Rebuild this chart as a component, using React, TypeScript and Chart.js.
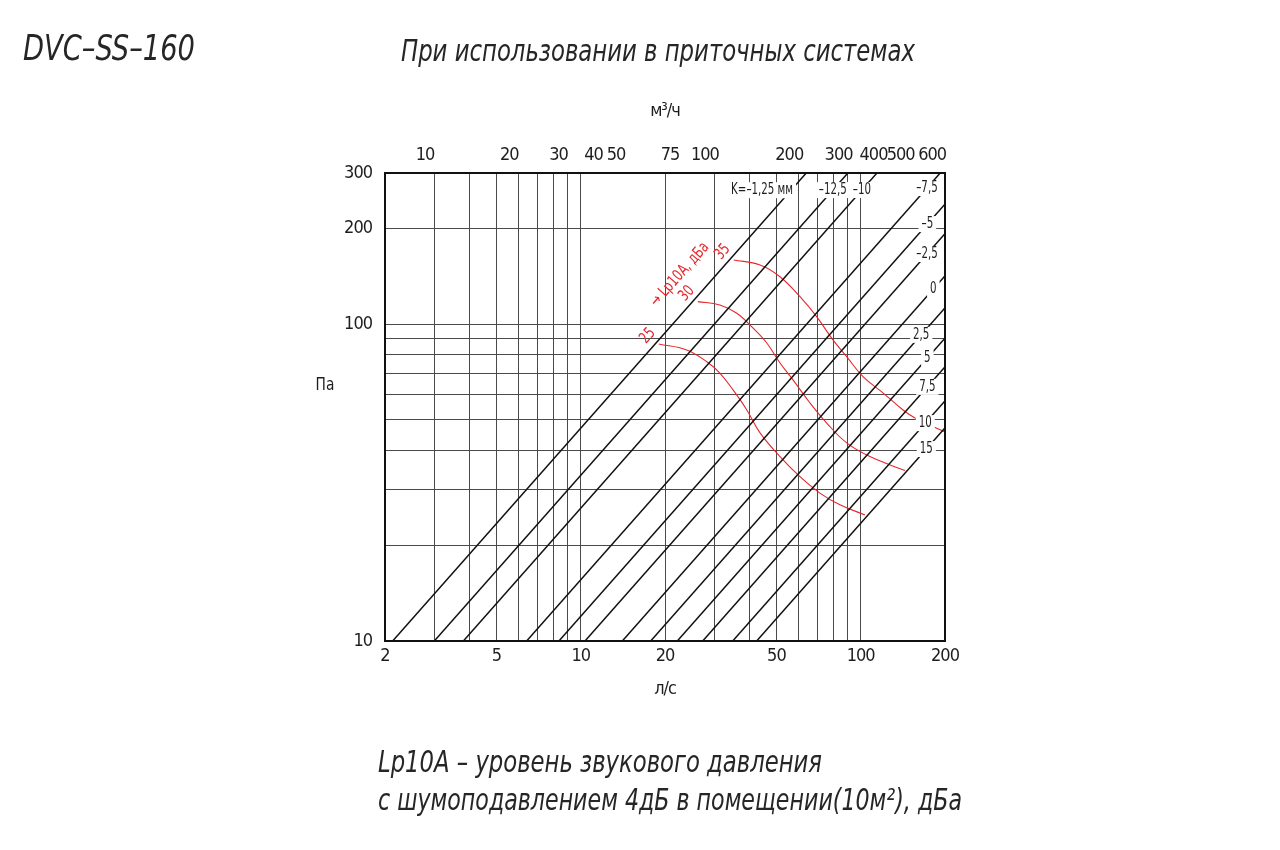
import React, { useEffect, useLayoutEffect, useRef } from "react";
import { Chart, registerables } from "chart.js";

Chart.register(...registerables);

const FONT = "'DejaVu Sans Condensed', 'DejaVu Sans', sans-serif";
const RED = "#e8262b";
const INK = "#1e1e1e";

// ---- axes: flow in l/s (bottom), m³/h (top), pressure in Pa (left)
const flowMin = 2;
const flowMax = 200;
const pressureMin = 10;
const pressureMax = 300;
const LS_TO_M3H = 3.6;
const flowTickLabels = [2, 5, 10, 20, 50, 100, 200];
const flowGridLines = [3, 4, 5, 6, 7, 8, 9, 10, 20, 30, 40, 50, 60, 70, 80, 90, 100];
const airflowM3hTicks = [10, 20, 30, 40, 50, 75, 100, 200, 300, 400, 500, 600];
const pressureTickLabels = [10, 100, 200, 300];
const pressureGridLines = [20, 30, 40, 50, 60, 70, 80, 90, 100, 200];

// ---- damper settings K: flow (l/s) where each line is at 10 Pa (pressure ∝ flow)
const kSettings = ["K=–1,25 мм", "–12,5", "–10", "–7,5", "–5", "–2,5", "0", "2,5", "5", "7,5", "10", "15"];
const kFlowAt10Pa = [2.13, 3.0, 3.81, 6.41, 8.36, 10.36, 14.08, 17.78, 22.13, 27.27, 34.9, 42.5];
const kLabelFlow = [56.4, 79.5, 101, 172.4, 173, 172.5, 181.7, 164.5, 173, 172.9, 170, 171.5];

// ---- noise curves Lp10A, dBA
const noiseLevels = ["35", "30", "25"];
const noise35Flow = [35.2, 43.7, 51.5, 60.7, 69.6, 79.6, 89.1, 101.9, 120.1, 141.6, 156.3, 200];
const noise35Pa = [159.5, 153.8, 141.2, 122.1, 105.6, 89.2, 79.0, 68.3, 60.7, 53.6, 50.6, 45.7];
const noise30Flow = [26.2, 31.4, 36.1, 41.2, 46.2, 51.5, 57.3, 65.9, 75.6, 89.1, 107.9, 143.9];
const noise30Pa = [117.8, 115, 108.2, 97.3, 87.2, 75.4, 66.7, 56.4, 48.75, 42.2, 38.2, 34.5];
const noise25Flow = [19.0, 23.9, 28.2, 31.4, 35.0, 39.2, 43.7, 51.5, 60.7, 71.5, 84.3, 103.6];
const noise25Pa = [86.6, 82.9, 76.1, 70.1, 62.0, 53.6, 45.4, 38.2, 33.0, 29.3, 26.9, 25.0];
const noiseAxisNote = "→ Lp10A, дБа";

const titleModel = "DVC–SS–160";
const titleUse = "При использовании в приточных системах";
const footnote1 = "Lp10A – уровень звукового давления";
const footnote2 = "с шумоподавлением 4дБ в помещении(10м²), дБа";

const FIG = "\u2007";

function FitText(props: { text: string; left: number; cy: number; width: number; size: number }) {
  const ref = useRef<HTMLSpanElement>(null);
  useLayoutEffect(() => {
    const el = ref.current;
    if (!el) return;
    el.style.transform = "translateY(-50%)";
    const w = el.getBoundingClientRect().width;
    el.style.transform = `translateY(-50%) scaleX(${props.width / w})`;
  }, [props.text, props.width, props.size]);
  return (
    <span
      ref={ref}
      style={{
        position: "absolute",
        left: props.left,
        top: props.cy,
        fontSize: props.size,
        lineHeight: 1,
        fontStyle: "italic",
        fontFamily: FONT,
        whiteSpace: "nowrap",
        transformOrigin: "0 50%",
        color: "#262626",
      }}
    >
      {props.text}
    </span>
  );
}

function drawNarrow(ctx: any, text: string, x: number, y: number, sx: number, angle = 0) {
  ctx.save();
  ctx.translate(x, y);
  if (angle) ctx.rotate(angle);
  ctx.scale(sx, 1);
  ctx.fillText(text, 0, 0);
  ctx.restore();
}

export default function App() {
  const canvasRef = useRef<HTMLCanvasElement>(null);

  useEffect(() => {
    const canvas = canvasRef.current;
    if (!canvas) return;

    const lineDatasets = kFlowAt10Pa.map((q, i) => ({
      label: kSettings[i],
      data: [
        { x: q, y: pressureMin },
        { x: (q * pressureMax) / pressureMin, y: pressureMax },
      ],
      borderColor: "#111",
      borderWidth: 1.5,
      pointRadius: 0,
      tension: 0,
      xAxisID: "x",
      yAxisID: "y",
    }));

    const curves: [number[], number[]][] = [
      [noise35Flow, noise35Pa],
      [noise30Flow, noise30Pa],
      [noise25Flow, noise25Pa],
    ];
    const noiseDatasets = curves.map(([f, p], i) => ({
      label: "Lp10A " + noiseLevels[i],
      data: f.map((x, j) => ({ x, y: p[j] })),
      borderColor: RED,
      borderWidth: 1.1,
      pointRadius: 0,
      tension: 0.4,
      xAxisID: "x",
      yAxisID: "y",
    }));

    const allFlowTicks = Array.from(new Set([...flowTickLabels, ...flowGridLines])).sort((a, b) => a - b);
    const allPressureTicks = Array.from(new Set([...pressureTickLabels, ...pressureGridLines])).sort((a, b) => a - b);

    const annotate = {
      id: "annotate",
      beforeDraw(chart: any) {
        chart.ctx.letterSpacing = "-1px";
      },
      afterDatasetsDraw(chart: any) {
        const { ctx, scales } = chart;
        const x = scales.x;
        const y = scales.y;
        ctx.save();
        ctx.letterSpacing = "0px";
        // K labels on the damper lines, white background
        const sxK = 0.76;
        ctx.font = `15px ${FONT}`;
        ctx.textBaseline = "middle";
        ctx.textAlign = "center";
        kSettings.forEach((t, i) => {
          const q = kLabelFlow[i];
          const px = x.getPixelForValue(q);
          const py = y.getPixelForValue((q * pressureMin) / kFlowAt10Pa[i]);
          const w = ctx.measureText(t).width * sxK;
          const cx = i === 0 ? px - w / 2 + 2 : px;
          ctx.fillStyle = "#fff";
          ctx.fillRect(cx - w / 2 - 3, py - 8, w + 6, 16);
          ctx.fillStyle = INK;
          drawNarrow(ctx, t, cx, py, sxK);
        });
        // noise labels, rotated along the diagonals
        const ang = Math.atan2(
          y.getPixelForValue(100) - y.getPixelForValue(10),
          x.getPixelForValue(100) - x.getPixelForValue(10)
        );
        ctx.fillStyle = RED;
        ctx.font = `16px ${FONT}`;
        curves.forEach(([f, p], i) => {
          const sx = x.getPixelForValue(f[0]);
          const sy = y.getPixelForValue(p[0]);
          drawNarrow(ctx, noiseLevels[i], sx - 11, sy - 8, 0.8, ang);
          if (i === 1) drawNarrow(ctx, noiseAxisNote, sx - 18, sy - 27, 0.8, ang);
        });
        // "Па" axis name, horizontal
        const a = chart.chartArea;
        ctx.fillStyle = INK;
        ctx.font = `18px ${FONT}`;
        drawNarrow(ctx, "Па", a.left - 60, a.top + 212, 0.85);
        // frame
        ctx.strokeStyle = "#111";
        ctx.lineWidth = 2;
        ctx.strokeRect(a.left, a.top, a.right - a.left, a.bottom - a.top);
        ctx.restore();
      },
    };

    const tickFont = { size: 18, family: FONT };

    const chart = new Chart(canvas, {
      type: "line",
      data: { datasets: [...lineDatasets, ...noiseDatasets] as any },
      options: {
        responsive: false,
        animation: false,
        layout: { padding: { left: 0, right: 335, top: 0, bottom: 0 } },
        plugins: { legend: { display: false }, tooltip: { enabled: false } },
        scales: {
          x: {
            type: "logarithmic",
            position: "bottom",
            min: flowMin,
            max: flowMax,
            afterBuildTicks: (s: any) => {
              s.ticks = allFlowTicks.map((v) => ({ value: v }));
            },
            afterFit: (s: any) => {
              s.height = 209;
            },
            ticks: {
              autoSkip: false,
              maxRotation: 0,
              padding: 5,
              color: INK,
              font: tickFont,
              callback: (v: any) => (flowTickLabels.includes(Number(v)) ? String(v) : ""),
            },
            grid: {
              drawTicks: false,
              lineWidth: 1,
              color: (c: any) => (c.tick && flowGridLines.includes(c.tick.value) ? "#4a4a4a" : "rgba(0,0,0,0)"),
            },
            border: { display: false },
            title: {
              display: true,
              text: "л/с",
              color: INK,
              font: tickFont,
              padding: { top: 0, bottom: 150 },
            },
          },
          x2: {
            type: "logarithmic",
            position: "top",
            min: flowMin * LS_TO_M3H,
            max: flowMax * LS_TO_M3H,
            afterBuildTicks: (s: any) => {
              s.ticks = airflowM3hTicks.map((v) => ({ value: v }));
            },
            afterFit: (s: any) => {
              s.height = 173;
            },
            ticks: {
              autoSkip: false,
              maxRotation: 0,
              padding: 7,
              color: INK,
              font: tickFont,
              callback: (v: any) => {
                const n = Number(v);
                if (n === 600) return FIG + FIG + "600";
                if (n === 50) return "50" + FIG;
                return String(n);
              },
            },
            grid: { display: false, drawTicks: false },
            border: { display: false },
            title: {
              display: true,
              text: "м³/ч",
              color: INK,
              font: tickFont,
              padding: { top: 101, bottom: 0 },
            },
          },
          y: {
            type: "logarithmic",
            position: "left",
            min: pressureMin,
            max: pressureMax,
            afterBuildTicks: (s: any) => {
              s.ticks = allPressureTicks.map((v) => ({ value: v }));
            },
            afterFit: (s: any) => {
              s.width = 385;
            },
            ticks: {
              autoSkip: false,
              padding: 13,
              color: INK,
              font: tickFont,
              callback: (v: any) => (pressureTickLabels.includes(Number(v)) ? String(v) : ""),
            },
            grid: {
              drawTicks: false,
              lineWidth: 1,
              color: (c: any) => (c.tick && pressureGridLines.includes(c.tick.value) ? "#4a4a4a" : "rgba(0,0,0,0)"),
            },
            border: { display: false },
          },
        },
      },
      plugins: [annotate],
    } as any);

    return () => chart.destroy();
  }, []);

  return (
    <div style={{ position: "absolute", left: 0, top: 0, width: 1280, height: 850, background: "#fff", overflow: "hidden" }}>
      <canvas ref={canvasRef} width={1280} height={850} style={{ position: "absolute", left: 0, top: 0, width: 1280, height: 850 }} />
      <FitText text={titleModel} left={23} cy={48} width={172} size={36} />
      <FitText text={titleUse} left={401} cy={51} width={514} size={30} />
      <FitText text={footnote1} left={378} cy={762} width={444} size={30} />
      <FitText text={footnote2} left={378} cy={800} width={584} size={30} />
    </div>
  );
}
